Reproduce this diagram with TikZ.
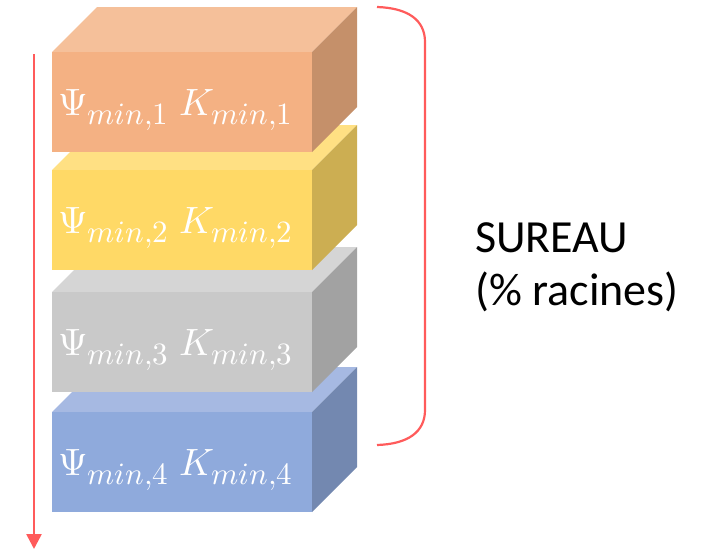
\documentclass[tikz,border=0pt]{standalone}
\usepackage{fontspec}
\usepackage{unicode-math}
\setmathfont{Latin Modern Math}
\DeclareMathSizes{38}{38}{31}{24}
\newfontfamily\labelfont{Carlito}
\usetikzlibrary{arrows.meta}
\definecolor{redl}{HTML}{FF5B5B}
\definecolor{orF}{HTML}{F4B183}\definecolor{orT}{HTML}{F5C09A}\definecolor{orS}{HTML}{C5906A}
\definecolor{yeF}{HTML}{FFD966}\definecolor{yeT}{HTML}{FFE083}\definecolor{yeS}{HTML}{CCAE52}
\definecolor{grF}{HTML}{C9C9C9}\definecolor{grT}{HTML}{D5D5D5}\definecolor{grS}{HTML}{A2A2A2}
\definecolor{blF}{HTML}{8FAADC}\definecolor{blT}{HTML}{A6B9E2}\definecolor{blS}{HTML}{7388B0}
\tikzset{
  frontbox/.style={rectangle, draw=none, minimum width=260pt, minimum height=100pt, anchor=north west, inner sep=0pt, outer sep=0pt},
  blocklabel/.style={anchor=base west, inner sep=0pt, text=white, font=\fontsize{38}{46}\selectfont},
  redline/.style={draw=redl, line width=2.6pt},
  sidetext/.style={anchor=base west, inner sep=0pt, font=\labelfont\fontsize{46}{53}\selectfont}
}
\newcommand\myblock[6]{%
  \fill[#4] (52,#2) -- (97,#2-45) -- (357,#2-45) -- (312,#2) -- cycle;
  \fill[#5] (312,#2) -- (357,#2-45) -- (357,#2+55) -- (312,#2+100) -- cycle;
  \node[frontbox, fill=#3] (#1) at (52,#2) {};
  \node[blocklabel] (#1l) at (58,#2+63) {#6};
}
\begin{document}
\begin{tikzpicture}[x=1pt,y=-1pt]
\useasboundingbox (0,0) rectangle (711,549);
\myblock{b4}{412}{blF}{blT}{blS}{$\Psi_{min,4}\;K_{min,4}$}
\myblock{b3}{292}{grF}{grT}{grS}{$\Psi_{min,3}\;K_{min,3}$}
\myblock{b2}{170}{yeF}{yeT}{yeS}{$\Psi_{min,2}\;K_{min,2}$}
\myblock{b1}{52}{orF}{orT}{orS}{$\Psi_{min,1}\;K_{min,1}$}
\coordinate (a0) at (34,54);
\coordinate (a1) at (34,549);
\draw[redline, -{Triangle[width=15pt,length=15pt]}] (a0) -- (a1);
\coordinate (br0) at (377,7);
\coordinate (br1) at (377,445);
\draw[redline, line width=2.2pt] (br0) .. controls (408,8) and (425,20) .. (425,42) -- (425,410) .. controls (425,432) and (408,444) .. (br1);
\node[sidetext] (s1) at (475,252) {SUREAU};
\node[sidetext] (s2) at (475,305) {(\% racines)};
\end{tikzpicture}
\end{document}
